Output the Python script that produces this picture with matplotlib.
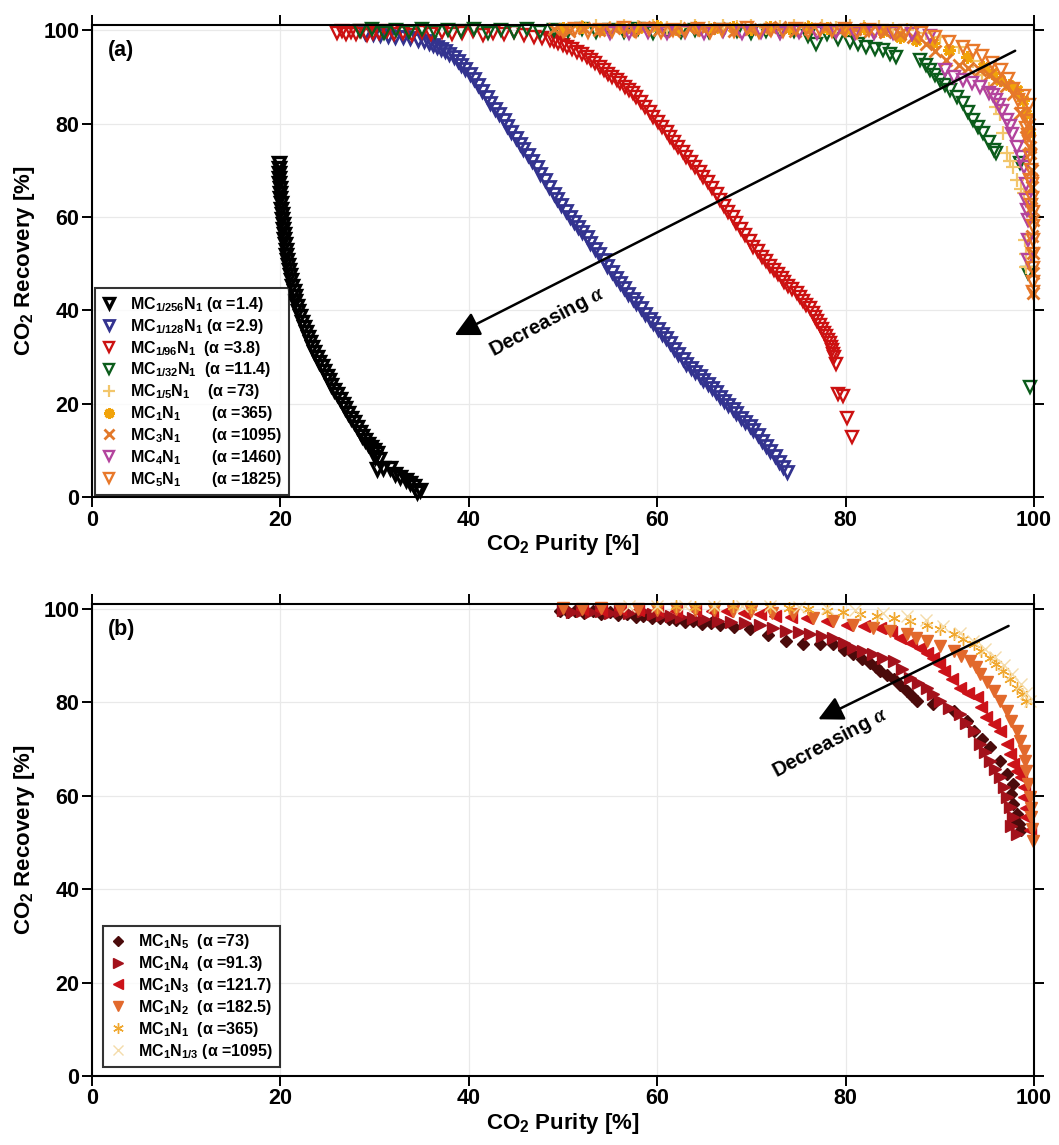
import matplotlib
matplotlib.use("Agg")
import matplotlib.pyplot as plt

plt.rcParams['font.family'] = ['Liberation Sans', 'DejaVu Sans']
plt.rcParams['font.weight'] = 'bold'
plt.rcParams['mathtext.fontset'] = 'custom'
plt.rcParams['mathtext.rm'] = 'Liberation Sans:bold'
plt.rcParams['mathtext.bf'] = 'Liberation Sans:bold'
plt.rcParams['mathtext.it'] = 'Liberation Serif:italic'

# ---------------- Panel (a) data ----------------
a_1_256_x = [19.8,19.8,19.9,19.9,19.9,20.0,20.0,20.0,20.1,20.1,20.2,20.2,20.3,20.3,20.4,20.4,20.5,20.6,20.6,20.7,
             20.8,20.9,21.0,21.1,21.2,21.4,21.5,21.6,21.8,21.9,22.1,22.3,22.5,22.7,22.9,23.1,23.3,23.6,23.9,24.1,
             24.4,24.6,24.9,25.2,25.4,25.7,26.0,26.3,26.6,26.9,27.2,27.5,27.8,28.1,28.4,28.7,29.0,29.3,29.6,29.9,
             30.2,30.0,30.5,30.2,30.9,31.6,32.2,32.7,33.3,33.8,34.2,34.8,34.5]
a_1_256_y = [71.5,70.5,69.5,68.4,67.3,66.2,65.1,64.0,62.9,61.8,60.7,59.6,58.5,57.4,56.3,55.2,54.1,53.0,51.9,50.8,
             49.7,48.6,47.5,46.4,45.3,44.2,43.1,42.0,40.9,39.8,38.7,37.6,36.5,35.4,34.3,33.2,32.1,31.0,30.0,29.0,
             28.0,27.0,26.0,25.0,24.0,23.0,22.0,21.0,20.0,19.0,18.0,17.0,16.0,15.0,14.0,13.0,12.2,11.4,10.7,10.0,
             9.4,8.6,8.2,6.1,6.3,6.2,5.0,4.3,3.6,3.0,2.4,1.5,1.1]

a_1_128_x = [29.0,29.8,30.6,31.4,32.2,33.0,33.8,34.6,35.2,35.8,36.2,36.6,37.0,37.5,37.9,38.4,38.8,39.2,39.6,40.1,
             40.5,41.0,41.4,41.9,42.3,42.8,43.2,43.7,44.1,44.5,45.0,45.4,45.8,46.3,46.7,47.2,47.6,48.1,48.5,49.0,
             49.4,49.8,50.3,50.7,51.2,51.6,52.0,52.5,52.9,53.4,53.8,54.3,54.7,55.2,55.6,56.1,56.5,56.9,57.4,57.8,
             58.3,58.7,59.2,59.6,60.1,60.5,60.9,61.4,61.8,62.2,62.7,63.1,63.6,64.0,64.5,64.9,65.4,65.8,66.2,66.7,
             67.1,67.5,68.0,68.4,68.9,69.3,69.8,70.2,70.7,71.1,71.6,72.0,72.5,72.9,73.4,73.8]
a_1_128_y = [99.3,99.1,99.0,98.8,98.6,98.5,98.3,98.0,97.6,97.2,96.8,96.4,96.0,95.5,95.0,94.3,93.5,92.6,91.7,90.7,
             89.5,88.3,87.0,85.7,84.5,83.2,82.0,80.7,79.5,78.2,77.0,75.7,74.5,73.2,72.0,70.7,69.3,67.9,66.5,65.0,
             63.8,62.5,61.2,60.0,58.9,57.8,56.8,55.7,54.5,53.2,52.0,50.7,49.5,48.2,47.0,45.8,44.7,43.6,42.5,41.5,
             40.4,39.3,38.2,37.2,36.1,35.0,34.0,32.9,31.8,30.7,29.6,28.6,27.7,26.8,26.0,25.1,24.2,23.3,22.4,21.5,
             20.6,19.7,18.8,17.9,17.0,16.1,15.2,14.3,13.2,12.0,10.9,9.8,8.7,7.6,6.5,5.4]

a_1_96_x = [26.0,26.5,27.0,27.5,28.0,28.6,29.2,29.8,30.5,31.3,32.1,33.0,34.0,35.0,36.0,37.1,38.2,39.3,40.4,41.5,
            42.6,43.7,44.8,45.9,46.9,47.8,
            48.6,49.0,49.5,50.0,50.4,51.0,51.5,52.0,52.5,53.0,53.4,53.9,54.3,54.8,55.2,55.7,56.1,56.6,57.0,57.4,
            57.8,58.3,58.7,59.2,59.6,60.1,60.5,61.0,61.4,61.8,62.2,62.7,63.1,63.6,64.0,64.5,64.9,65.4,65.8,66.3,
            66.7,67.1,67.5,68.0,68.4,68.9,69.3,69.8,70.2,70.7,71.1,71.6,72.0,72.4,72.8,73.2,73.5,73.9,74.3,74.8,
            75.2,75.5,75.8,76.2,76.5,76.8,77.0,77.3,77.5,77.7,77.9,78.1,78.3,78.5,78.6,78.7,78.8,79.0,
            79.2,79.7,80.2,80.7]
a_1_96_y = [99.4,99.8,99.1,99.6,99.2,99.8,99.0,99.5,99.3,99.8,99.1,99.5,99.0,99.6,99.2,99.7,99.1,99.4,99.8,99.0,
            99.5,99.2,99.7,99.0,98.6,98.3,
            97.9,97.6,97.2,96.8,96.4,95.9,95.4,94.9,94.3,93.6,92.9,92.2,91.4,90.7,90.0,89.3,88.6,87.9,87.2,86.5,
            85.7,84.7,83.6,82.5,81.4,80.4,79.3,78.3,77.2,76.1,75.0,74.0,72.9,71.8,70.7,69.7,68.6,67.4,66.1,64.9,
            63.6,62.4,61.1,59.9,58.6,57.4,56.1,54.9,53.6,52.6,51.5,50.5,49.5,48.6,47.7,46.9,46.0,45.3,44.5,43.7,
            42.9,42.0,41.2,40.4,39.5,38.6,37.8,36.9,36.0,35.2,34.5,33.7,33.0,32.2,31.5,30.7,30.0,28.5,
            22.0,21.6,16.9,12.8]

a_1_32_x = [28.5,29.7,31.0,32.3,33.6,35.0,36.4,37.8,39.2,40.6,42.0,43.4,44.8,46.2,47.6,49.0,50.5,52.0,53.5,55.0,
            56.5,58.0,59.5,61.0,62.5,64.0,65.5,67.0,68.5,70.0,71.5,73.0,74.5,76.0,76.9,78.0,79.2,
            80.5,81.3,82.2,83.1,84.0,84.7,85.4,87.9,88.5,89.0,89.5,90.0,90.6,91.1,91.8,92.5,93.0,93.5,94.1,94.6,
            95.2,95.7,96.0,98.5,99.4,99.6]
a_1_32_y = [99.8,100.2,99.5,100.0,99.7,100.3,99.6,100.1,99.8,100.3,99.5,100.0,99.7,100.2,99.6,100.1,99.8,100.3,99.6,100.0,
            99.7,100.2,99.5,99.9,99.7,100.1,99.6,100.0,99.8,99.5,99.9,99.6,99.8,98.8,97.1,99.2,98.2,
            97.5,97.0,96.4,96.0,95.7,95.0,94.3,93.6,92.5,91.4,90.3,89.3,88.2,87.2,85.8,84.4,82.5,80.7,79.3,77.9,
            76.1,74.3,73.6,71.5,48.0,23.6]

a_1_5_x = [52.0,53.5,55.0,56.5,58.0,59.5,61.0,62.5,64.0,65.5,67.0,68.5,70.0,71.5,73.0,74.5,76.0,77.5,79.0,80.5,
           82.0,83.5,85.0,86.5,88.5,90.0,92.0,93.5,94.5,95.2,96.0,96.4,96.7,97.1,97.5,97.8,98.2,98.6,98.9,99.0,
           99.1,99.2]
a_1_5_y = [100.6,100.9,100.5,100.8,100.6,100.9,100.5,100.7,100.9,100.5,100.8,100.6,100.9,100.5,100.7,100.8,100.6,100.9,100.5,100.8,
           100.6,100.7,100.3,100.0,99.5,98.5,96.5,93.5,90.5,87.5,83.6,82.0,78.0,73.6,72.0,70.7,67.9,66.0,65.1,55.0,
           52.0,49.3]

a_1_1_x = [50.0,52.0,54.0,56.0,58.0,60.0,62.0,64.0,66.0,68.0,70.0,72.0,74.0,76.0,78.0,80.0,82.0,84.0,85.8,87.5,
           89.3,91.0,92.9,94.6,95.5,96.4,97.3,98.2,98.8,99.2,99.5]
a_1_1_y = [100.4,100.7,100.3,100.6,100.4,100.8,100.3,100.6,100.5,100.7,100.3,100.6,100.4,100.7,100.5,100.3,100.4,99.8,98.6,98.0,
           97.2,95.8,94.3,92.1,90.8,89.3,88.2,87.2,85.0,82.0,78.0]

a_3_1_x = [49.0,50.6,52.2,53.8,55.4,57.0,58.6,60.2,61.8,63.4,65.0,66.6,68.2,69.8,71.4,73.0,74.6,76.2,77.8,79.4,
           81.0,82.6,84.2,85.8,87.2,88.5,89.5,90.7,92.0,93.0,94.3,95.2,96.0,97.0,97.8,98.5,99.2,99.6,99.75,99.9,
           99.9,99.9,99.5,99.8,99.7,99.8,99.9,99.6]
a_3_1_y = [100.2,99.8,100.5,100.0,100.4,99.9,100.6,100.1,99.8,100.4,100.0,100.5,99.9,100.3,100.0,100.6,99.8,100.2,100.4,99.9,
           100.3,99.8,99.6,99.2,98.6,97.0,95.5,93.6,92.5,92.0,91.4,90.3,89.3,88.0,86.4,82.2,77.2,73.6,66.4,59.3,
           52.2,43.7,80.0,70.0,62.0,56.0,48.0,75.0]

a_4_1_x = [55.0,57.0,59.0,61.0,63.0,65.0,67.0,69.0,71.0,73.0,75.0,77.0,79.0,81.0,83.0,85.0,87.0,89.0,90.5,91.5,
           92.5,93.4,94.3,95.2,96.0,96.6,97.1,97.7,98.2,98.6,98.9,99.1,99.2,99.3,99.4,99.4,99.4,95.6,96.3,97.4]
a_4_1_y = [99.5,99.3,99.7,99.4,99.6,99.3,99.8,99.4,99.6,99.3,99.7,99.4,99.6,99.3,99.5,99.4,99.2,98.8,91.5,90.0,
           89.3,88.6,87.9,86.5,85.0,82.8,80.7,77.8,75.0,72.8,70.7,67.0,63.6,61.5,59.3,55.0,50.7,86.2,84.0,79.4]

a_5_1_x = [50.0,51.3,52.6,53.9,55.2,56.5,57.8,59.1,60.4,61.7,63.0,64.3,65.6,66.9,68.2,69.5,70.8,72.1,73.4,74.7,
           76.0,77.3,78.6,79.9,81.2,82.5,83.8,85.1,86.4,88.0,89.5,91.0,92.5,93.5,94.5,95.5,96.5,97.2,97.8,98.3,
           98.8,99.2,99.5,99.6,99.7,99.8,99.8,99.9,99.9,99.9,99.9,99.9,99.9,99.9,99.5,99.3,99.6,98.9,99.4,99.7]
a_5_1_y = [99.9,100.3,99.7,100.1,99.8,100.4,99.9,100.2,99.6,100.1,99.8,100.3,99.7,100.0,99.9,100.4,99.7,100.1,99.8,100.2,
           99.6,100.0,99.8,100.3,99.7,100.1,99.9,99.6,99.9,99.4,98.5,97.5,96.5,95.5,94.5,93.0,91.5,89.5,87.5,85.0,
           82.0,79.0,76.0,73.0,70.0,67.0,64.0,61.0,58.0,55.0,52.0,49.0,46.0,44.0,84.0,80.5,68.0,86.0,77.5,62.5]

a_labels = ["MC$_{1/256}$N$_1$ (α =1.4)",
            "MC$_{1/128}$N$_1$ (α =2.9)",
            "MC$_{1/96}$N$_1$  (α =3.8)",
            "MC$_{1/32}$N$_1$  (α =11.4)",
            "MC$_{1/5}$N$_1$    (α =73)",
            "MC$_1$N$_1$       (α =365)",
            "MC$_3$N$_1$       (α =1095)",
            "MC$_4$N$_1$       (α =1460)",
            "MC$_5$N$_1$       (α =1825)"]

# ---------------- Panel (b) data ----------------
b_n5_x = [49.7,50.5,51.3,52.2,53.2,54.0,55.0,55.8,56.8,57.7,58.5,59.4,60.3,61.2,62.0,62.9,63.8,64.8,65.7,66.7,
          68.2,69.9,71.8,73.7,75.5,77.3,78.7,79.8,80.8,81.7,82.6,83.2,83.7,84.4,85.1,85.8,86.5,87.0,87.6,89.3,
          91.5,92.9,93.6,94.5,95.3,96.4,97.1,97.8,97.6,97.8,98.2,98.6,97.9,98.4]
b_n5_y = [99.6,99.3,99.7,99.2,99.6,99.0,99.3,98.8,98.9,98.4,98.6,98.0,98.1,97.8,97.6,97.3,97.4,96.8,97.0,96.7,
          96.2,95.7,94.5,93.2,92.6,92.5,92.5,91.3,90.3,89.4,88.5,87.7,86.8,85.9,85.0,83.8,82.5,81.4,80.3,79.6,
          78.2,76.1,73.9,72.1,70.4,67.5,64.7,62.6,60.5,58.3,56.1,52.6,55.0,54.0]

b_n4_x = [50.0,51.0,52.0,53.0,54.0,55.0,56.0,57.0,58.5,59.5,60.5,61.5,62.5,63.8,65.0,66.5,67.8,69.3,70.9,72.3,
          73.7,75.0,76.2,77.5,78.7,79.8,80.8,81.8,82.9,84.0,85.1,86.0,86.8,87.7,88.6,89.3,90.0,91.0,92.1,92.8,
          93.6,94.3,94.8,95.3,95.9,96.4,96.8,97.1,97.5,97.8,98.2,97.6]
b_n4_y = [99.8,99.4,99.7,99.3,99.6,99.2,99.5,99.1,99.6,99.0,98.8,98.6,98.3,98.1,97.8,97.5,97.3,97.0,96.7,96.0,
          95.3,95.0,94.6,94.3,93.9,92.8,91.7,91.0,90.3,89.6,88.9,87.1,85.3,84.2,83.2,81.8,80.3,78.9,77.5,75.7,
          73.9,71.1,69.3,67.5,65.8,64.0,61.8,59.7,57.6,55.4,51.9,53.5]

b_n3_x = [52.0,54.0,56.0,58.0,60.0,62.0,64.0,65.8,67.4,69.2,70.9,72.5,74.2,75.9,78.0,80.1,82.0,83.7,84.8,85.8,
          86.9,87.9,88.6,89.3,89.9,90.4,91.3,92.1,93.0,93.9,94.4,94.9,95.7,96.4,97.1,97.5,97.8,98.2,98.6,98.9,
          98.9,99.1,99.2,99.6]
b_n3_y = [100.0,99.8,100.0,99.8,99.9,99.7,99.8,99.7,99.6,99.2,98.9,98.6,98.4,98.1,97.4,96.7,96.4,96.0,95.0,93.9,
          92.8,91.7,90.7,89.6,88.2,86.8,85.0,83.2,82.1,81.1,79.0,76.8,75.3,73.9,71.1,68.9,66.8,65.4,64.0,61.8,
          59.7,57.5,55.4,52.6]

b_n2_x = [50.0,52.0,54.0,56.0,58.0,60.0,62.0,64.0,66.0,68.0,70.0,72.2,74.4,76.5,78.7,80.8,82.9,84.7,86.5,87.5,
          88.6,90.0,91.5,92.3,93.2,93.8,94.3,95.0,95.7,96.4,97.1,97.6,98.2,98.5,98.9,99.0,99.2,99.4,99.6,99.7,
          99.7,99.8,99.9]
b_n2_y = [100.2,100.0,100.2,100.0,100.1,99.9,100.0,99.8,99.9,99.6,99.5,99.2,98.9,98.2,97.4,96.7,96.0,95.3,94.6,93.9,
          93.2,92.1,91.0,90.0,88.9,87.5,86.0,84.3,82.5,80.4,78.2,76.0,73.9,71.8,69.7,67.5,65.4,62.5,59.7,57.5,
          55.4,53.0,50.4]

b_n1_x = [60.0,62.0,64.0,66.0,68.0,70.0,72.0,74.0,76.0,78.0,79.7,81.5,83.3,85.1,86.8,88.6,90.0,91.5,92.5,93.6,
          94.4,95.3,96.0,96.7,97.4,98.2,98.7,99.2]
b_n1_y = [100.5,100.6,100.4,100.5,100.6,100.4,100.5,100.3,100.0,99.6,99.3,98.9,98.5,98.1,97.4,96.7,95.7,94.6,93.6,92.5,
          91.1,89.6,88.2,86.8,85.0,83.2,81.8,80.3]

b_n13_x = [57.0,60.0,63.0,66.0,69.0,72.0,75.0,78.0,81.0,84.0,86.5,88.5,90.3,92.1,93.5,94.8,95.9,96.8,97.7,98.6,
           99.2,99.6]
b_n13_y = [100.6,100.7,100.6,100.7,100.6,100.6,100.5,100.3,99.8,99.2,98.5,97.6,96.3,94.8,93.2,91.5,89.8,88.0,86.0,83.9,
           82.0,80.3]

b_labels = ["MC$_1$N$_5$  (α =73)",
            "MC$_1$N$_4$  (α =91.3)",
            "MC$_1$N$_3$  (α =121.7)",
            "MC$_1$N$_2$  (α =182.5)",
            "MC$_1$N$_1$  (α =365)",
            "MC$_1$N$_{1/3}$ (α =1095)"]

ticks = [0, 20, 40, 60, 80, 100]

# ---------------- Figure ----------------
fig = plt.figure(figsize=(10.59, 11.45), dpi=100)
axa = fig.add_axes([0.0869, 0.5659, 0.8895, 0.4122])
axb = fig.add_axes([0.0869, 0.0603, 0.8895, 0.4122])


def style(ax):
    ax.set_xlim(0, 100)
    ax.set_ylim(0, 101.1)
    ax.set_xticks(ticks)
    ax.set_yticks(ticks)
    ax.grid(True, color='#e9e9e9', lw=0.9)
    ax.set_axisbelow(True)
    for s in ax.spines.values():
        s.set_linewidth(1.5)
    ax.tick_params(direction='out', length=7, width=1.4, labelsize=15.5,
                   top=True, right=True, pad=2)
    for lab in ax.get_xticklabels() + ax.get_yticklabels():
        lab.set_fontweight('bold')
    ax.set_xlabel("CO$_2$ Purity [%]", fontsize=16, fontweight='bold', labelpad=1)
    ax.set_ylabel("CO$_2$ Recovery [%]", fontsize=16, fontweight='bold', labelpad=5)


style(axa)
style(axb)

ov = dict(linestyle='none', marker='v', mfc='none', ms=8.5, mew=1.7, clip_on=False)
axa.plot(a_1_256_x, a_1_256_y, mec='black', label=a_labels[0],
         **{**ov, 'ms': 9, 'mew': 2.4})
axa.plot(a_1_128_x, a_1_128_y, mec='#33338f', label=a_labels[1], **{**ov, 'mew': 2.0})
axa.plot(a_1_96_x, a_1_96_y, mec='#cc1111', label=a_labels[2], **ov)
axa.plot(a_1_32_x, a_1_32_y, mec='#0b5c1b', label=a_labels[3], **ov)
axa.plot(a_1_5_x, a_1_5_y, linestyle='none', marker='+', ms=10, mew=1.6, color='#f2c66b',
         label=a_labels[4], clip_on=False)
axa.plot(a_1_1_x, a_1_1_y, linestyle='none', marker=(8, 2, 0), ms=9, mew=2.2, color='#f1a30a',
         label=a_labels[5], clip_on=False)
axa.plot(a_3_1_x, a_3_1_y, linestyle='none', marker='x', ms=8.5, mew=2.0, color='#e2782a',
         label=a_labels[6], clip_on=False)
axa.plot(a_4_1_x, a_4_1_y, mec='#b3449d', label=a_labels[7], **ov)
axa.plot(a_5_1_x, a_5_1_y, mec='#e8782a', label=a_labels[8], **ov)

axa.annotate('', xy=(38.5, 34.7), xytext=(98.0, 95.6),
             arrowprops=dict(arrowstyle='-|>,head_length=0.75,head_width=0.38', color='black',
                             lw=1.8, mutation_scale=20, shrinkA=0, shrinkB=0))
axa.text(48.3, 37.6, r"Decreasing $\alpha$", rotation=28, rotation_mode='anchor',
         ha='center', va='center', fontsize=14.5, fontweight='bold')
axa.text(0.031, 0.947, "(a)", transform=axa.transAxes, fontsize=15.5, fontweight='bold',
         ha='center', va='center')

leg_kw = dict(loc='lower left', borderaxespad=0, fontsize=11.5, frameon=True, fancybox=False,
              edgecolor='black', handlelength=1.0, handletextpad=0.8, labelspacing=0.18,
              borderpad=0.4, markerscale=0.85)
lega = axa.legend(bbox_to_anchor=(0.003, 0.004), **leg_kw)
lega.get_frame().set_linewidth(1.5)
for t in lega.get_texts():
    t.set_fontweight('bold')

# panel b
axb.plot(b_n5_x, b_n5_y, linestyle='none', marker='D', ms=6.5, color='#4b0b0b', label=b_labels[0], clip_on=False)
axb.plot(b_n4_x, b_n4_y, linestyle='none', marker='>', ms=8, color='#a3111b', label=b_labels[1], clip_on=False)
axb.plot(b_n3_x, b_n3_y, linestyle='none', marker='<', ms=8, color='#cc1219', label=b_labels[2], clip_on=False)
axb.plot(b_n2_x, b_n2_y, linestyle='none', marker='v', ms=8.5, color='#e2692c', label=b_labels[3], clip_on=False)
axb.plot(b_n1_x, b_n1_y, linestyle='none', marker=(6, 2, 0), ms=9, mew=1.0, color='#f0a830',
         label=b_labels[4], clip_on=False)
axb.plot(b_n13_x, b_n13_y, linestyle='none', marker='x', ms=9, mew=1.0, color='#f4dcaa',
         label=b_labels[5], clip_on=False)

axb.annotate('', xy=(77.1, 76.4), xytext=(97.3, 96.4),
             arrowprops=dict(arrowstyle='-|>,head_length=0.75,head_width=0.38', color='black',
                             lw=1.8, mutation_scale=20, shrinkA=0, shrinkB=0))
axb.text(78.3, 71.4, r"Decreasing $\alpha$", rotation=28, rotation_mode='anchor',
         ha='center', va='center', fontsize=14.5, fontweight='bold')
axb.text(0.031, 0.947, "(b)", transform=axb.transAxes, fontsize=15.5, fontweight='bold',
         ha='center', va='center')

legb = axb.legend(bbox_to_anchor=(0.012, 0.019), **leg_kw)
legb.get_frame().set_linewidth(1.5)
for t in legb.get_texts():
    t.set_fontweight('bold')

fig.savefig('out.png', dpi=100, facecolor='white')
